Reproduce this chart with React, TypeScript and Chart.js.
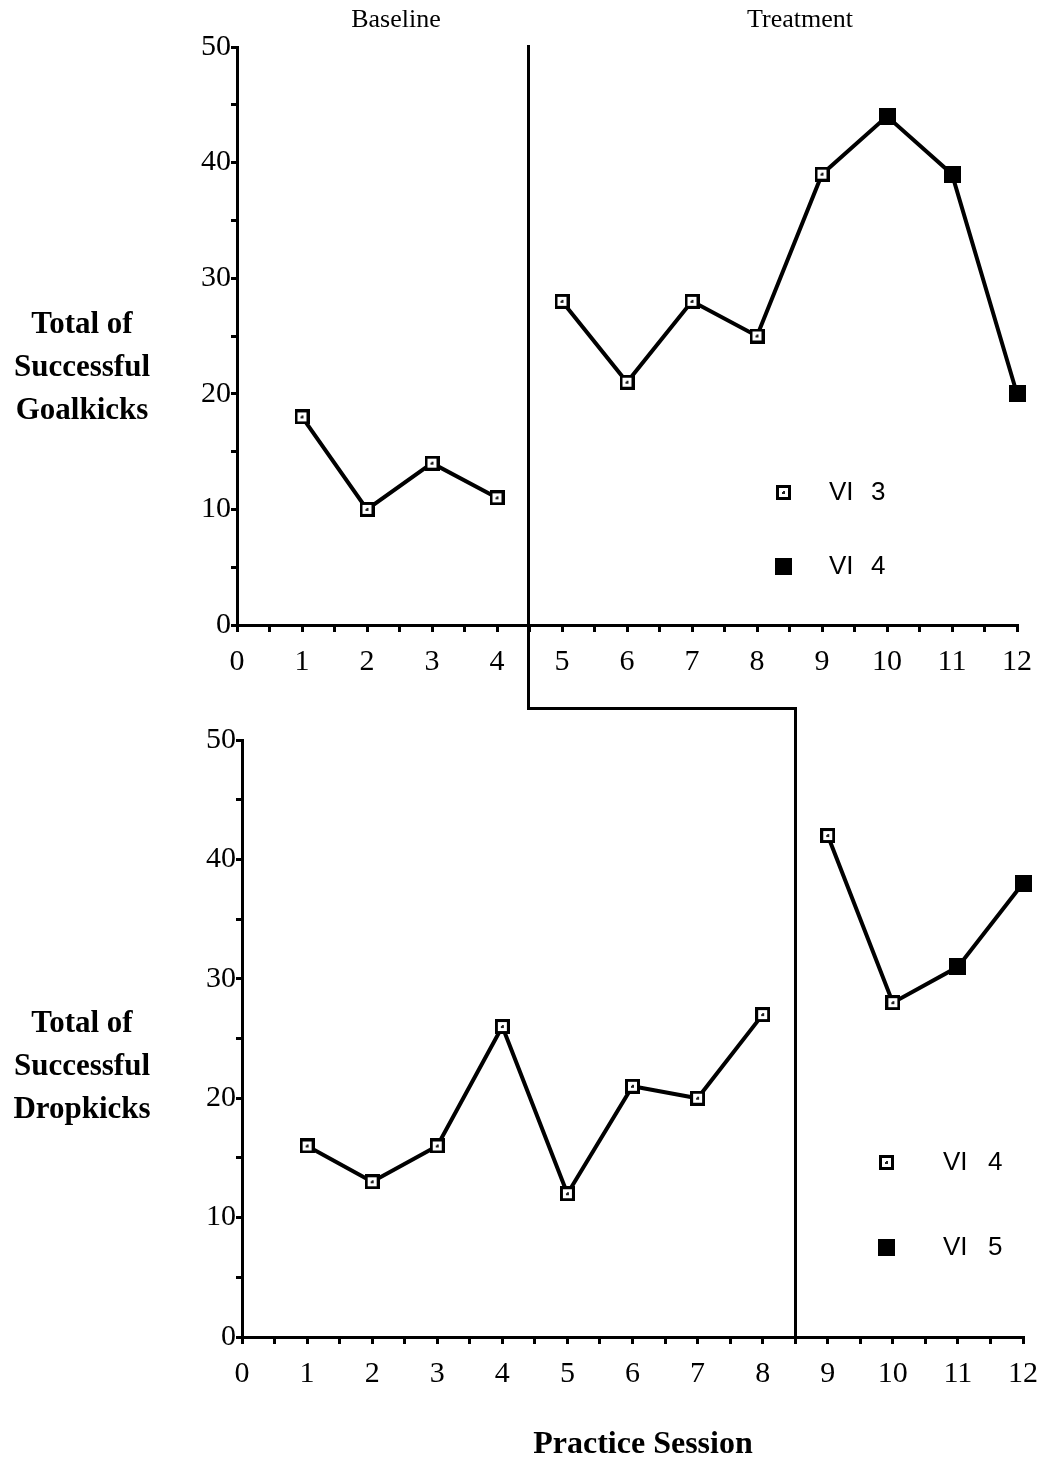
import React, { useEffect, useRef } from 'react';
import { Chart, registerables } from 'chart.js';

Chart.register(...registerables);

// ---------- data ----------
const sessionMin = 0;
const sessionMax = 12;
const totalMin = 0;
const totalMax = 50;

const goalBaselineSessions = [1, 2, 3, 4];
const goalBaselineValues = [18, 10, 14, 11];
const goalVI3Sessions = [5, 6, 7, 8, 9];
const goalVI3Values = [28, 21, 28, 25, 39];
const goalVI4Sessions = [10, 11, 12];
const goalVI4Values = [44, 39, 20];
const goalPhaseChange = 4.5;
const goalLegendLabels = ['VI 3', 'VI 4'];

const dropBaselineSessions = [1, 2, 3, 4, 5, 6, 7, 8];
const dropBaselineValues = [16, 13, 16, 26, 12, 21, 20, 27];
const dropVI4Sessions = [9, 10];
const dropVI4Values = [42, 28];
const dropVI5Sessions = [11, 12];
const dropVI5Values = [31, 38];
const dropPhaseChange = 8.5;
const dropLegendLabels = ['VI 4', 'VI 5'];

const phaseLabels = ['Baseline', 'Treatment'];
const goalTitle = ['Total of', 'Successful', 'Goalkicks'];
const dropTitle = ['Total of', 'Successful', 'Dropkicks'];
const xTitle = 'Practice Session';

// ---------- helpers ----------
function makeOpenMarker(): HTMLCanvasElement {
  const c = document.createElement('canvas');
  c.width = 15;
  c.height = 15;
  const g = c.getContext('2d')!;
  g.fillStyle = '#000';
  g.fillRect(0, 0, 15, 15);
  g.fillStyle = '#fff';
  g.fillRect(3, 3, 9, 9);
  g.fillStyle = '#222';
  g.fillRect(6, 6, 3, 3);
  g.fillStyle = '#fff';
  g.fillRect(6, 6, 1, 1);
  return c;
}

function makeFilledMarker(): HTMLCanvasElement {
  const c = document.createElement('canvas');
  c.width = 17;
  c.height = 17;
  const g = c.getContext('2d')!;
  g.fillStyle = '#000';
  g.fillRect(0, 0, 17, 17);
  return c;
}

function pts(xs: number[], ys: number[]) {
  return xs.map((x, i) => ({ x, y: ys[i] }));
}

const SERIF = '"Liberation Serif", "Times New Roman", serif';
const SANS = '"Liberation Sans", Arial, sans-serif';

function scalesConfig() {
  return {
    x: {
      type: 'linear' as const,
      min: sessionMin,
      max: sessionMax,
      border: { color: '#000', width: 3 },
      grid: {
        drawOnChartArea: false,
        drawTicks: true,
        tickLength: 7,
        tickWidth: 3,
        tickColor: '#000',
        lineWidth: 3,
      },
      ticks: {
        stepSize: 0.5,
        autoSkip: false,
        maxRotation: 0,
        color: '#000',
        padding: 12,
        font: { family: SERIF, size: 30 },
        callback: (v: any) => (Number.isInteger(Number(v)) ? String(v) : ''),
      },
      afterFit: (s: any) => {
        s.height = 75;
        s.paddingLeft = 0;
        s.paddingRight = 0;
      },
    },
    y: {
      type: 'linear' as const,
      min: totalMin,
      max: totalMax,
      border: { color: '#000', width: 3 },
      grid: {
        drawOnChartArea: false,
        drawTicks: true,
        tickLength: 6,
        tickWidth: 3,
        tickColor: '#000',
        lineWidth: 3,
      },
      ticks: {
        stepSize: 5,
        autoSkip: false,
        color: '#000',
        padding: 0,
        font: { family: SERIF, size: 30 },
        callback: (v: any) => (Number(v) % 10 === 0 ? String(v) : ''),
      },
      afterFit: (s: any) => {
        s.width = 45;
        s.paddingTop = 0;
        s.paddingBottom = 0;
      },
    },
  };
}

function drawLegend(
  ctx: CanvasRenderingContext2D,
  labels: string[],
  markers: HTMLCanvasElement[],
  mx: number,
  ys: number[],
  tx: number,
  nx: number
) {
  ctx.save();
  ctx.fillStyle = '#000';
  ctx.font = `26px ${SANS}`;
  ctx.textBaseline = 'middle';
  ctx.textAlign = 'left';
  labels.forEach((lab, i) => {
    const m = markers[i];
    ctx.drawImage(m, Math.round(mx - m.width / 2), Math.round(ys[i] - m.height / 2));
    const parts = lab.split(' ');
    ctx.fillText(parts[0], tx, ys[i] + 1);
    ctx.fillText(parts[1], nx, ys[i] + 1);
  });
  ctx.restore();
}

export default function App() {
  const topRef = useRef<HTMLCanvasElement>(null);
  const botRef = useRef<HTMLCanvasElement>(null);

  useEffect(() => {
    const open = makeOpenMarker();
    const filled = makeFilledMarker();

    const lineBase = {
      borderColor: '#000',
      backgroundColor: '#000',
      borderWidth: 4,
      tension: 0,
      clip: false as const,
      pointRadius: 7,
    };

    const topChart = new Chart(topRef.current!, {
      type: 'line',
      data: {
        datasets: [
          {
            ...lineBase,
            label: 'Baseline',
            data: pts(goalBaselineSessions, goalBaselineValues),
            pointStyle: open,
          },
          {
            ...lineBase,
            label: 'Treatment',
            data: [
              ...pts(goalVI3Sessions, goalVI3Values),
              ...pts(goalVI4Sessions, goalVI4Values),
            ],
            pointStyle: [
              ...goalVI3Sessions.map(() => open),
              ...goalVI4Sessions.map(() => filled),
            ] as any,
          },
        ],
      },
      options: {
        responsive: false,
        animation: false,
        events: [],
        layout: { padding: { left: 192, right: 27, top: 47, bottom: 12 } },
        plugins: { legend: { display: false }, tooltip: { enabled: false } },
        scales: scalesConfig() as any,
      },
      plugins: [
        {
          id: 'topExtras',
          afterDraw(chart: any) {
            const ctx = chart.ctx as CanvasRenderingContext2D;
            const x = Math.round(chart.scales.x.getPixelForValue(goalPhaseChange)) - 1.5;
            ctx.save();
            ctx.strokeStyle = '#000';
            ctx.lineWidth = 3;
            ctx.beginPath();
            ctx.moveTo(x, chart.chartArea.top - 2);
            ctx.lineTo(x, 709.5);
            ctx.stroke();
            ctx.restore();
            drawLegend(ctx, goalLegendLabels, [open, filled], 783, [492, 566], 829, 871);
          },
        },
      ],
    });

    const botChart = new Chart(botRef.current!, {
      type: 'line',
      data: {
        datasets: [
          {
            ...lineBase,
            label: 'Baseline',
            data: pts(dropBaselineSessions, dropBaselineValues),
            pointStyle: open,
          },
          {
            ...lineBase,
            label: 'Treatment',
            data: [...pts(dropVI4Sessions, dropVI4Values), ...pts(dropVI5Sessions, dropVI5Values)],
            pointStyle: [
              ...dropVI4Sessions.map(() => open),
              ...dropVI5Sessions.map(() => filled),
            ] as any,
          },
        ],
      },
      options: {
        responsive: false,
        animation: false,
        events: [],
        layout: { padding: { left: 197, right: 21, top: 40, bottom: 49 } },
        plugins: { legend: { display: false }, tooltip: { enabled: false } },
        scales: scalesConfig() as any,
      },
      plugins: [
        {
          id: 'botExtras',
          afterDraw(chart: any) {
            const ctx = chart.ctx as CanvasRenderingContext2D;
            const xTop = Math.round(topChart.scales.x.getPixelForValue(goalPhaseChange)) - 1.5;
            const x = Math.round(chart.scales.x.getPixelForValue(dropPhaseChange)) + 0.5;
            ctx.save();
            ctx.strokeStyle = '#000';
            ctx.lineWidth = 3;
            ctx.lineCap = 'square';
            ctx.beginPath();
            ctx.moveTo(xTop, 8.5);
            ctx.lineTo(x, 8.5);
            ctx.lineTo(x, chart.chartArea.bottom);
            ctx.stroke();
            ctx.restore();
            drawLegend(ctx, dropLegendLabels, [open, filled], 886, [462, 547], 943, 988);
          },
        },
      ],
    });

    return () => {
      botChart.destroy();
      topChart.destroy();
    };
  }, []);

  const textBase: React.CSSProperties = {
    position: 'absolute',
    color: '#000',
    fontFamily: SERIF,
    whiteSpace: 'nowrap',
    transform: 'translate(-50%, -50%)',
    textAlign: 'center',
  };

  return (
    <div
      style={{
        position: 'absolute',
        left: 0,
        top: 0,
        width: 1044,
        height: 1461,
        background: '#fff',
        overflow: 'hidden',
      }}
    >
      <canvas
        ref={topRef}
        width={1044}
        height={712}
        style={{ position: 'absolute', left: 0, top: 0, width: 1044, height: 712 }}
      />
      <canvas
        ref={botRef}
        width={1044}
        height={761}
        style={{ position: 'absolute', left: 0, top: 700, width: 1044, height: 761 }}
      />
      <div style={{ ...textBase, left: 396, top: 19, fontSize: 26 }}>{phaseLabels[0]}</div>
      <div style={{ ...textBase, left: 800, top: 19, fontSize: 26 }}>{phaseLabels[1]}</div>
      <div style={{ ...textBase, left: 82, top: 365, fontSize: 31, fontWeight: 'bold', lineHeight: '43px' }}>
        {goalTitle.map((t) => (
          <div key={t}>{t}</div>
        ))}
      </div>
      <div style={{ ...textBase, left: 82, top: 1064, fontSize: 31, fontWeight: 'bold', lineHeight: '43px' }}>
        {dropTitle.map((t) => (
          <div key={t}>{t}</div>
        ))}
      </div>
      <div style={{ ...textBase, left: 643, top: 1442, fontSize: 32, fontWeight: 'bold' }}>{xTitle}</div>
    </div>
  );
}
